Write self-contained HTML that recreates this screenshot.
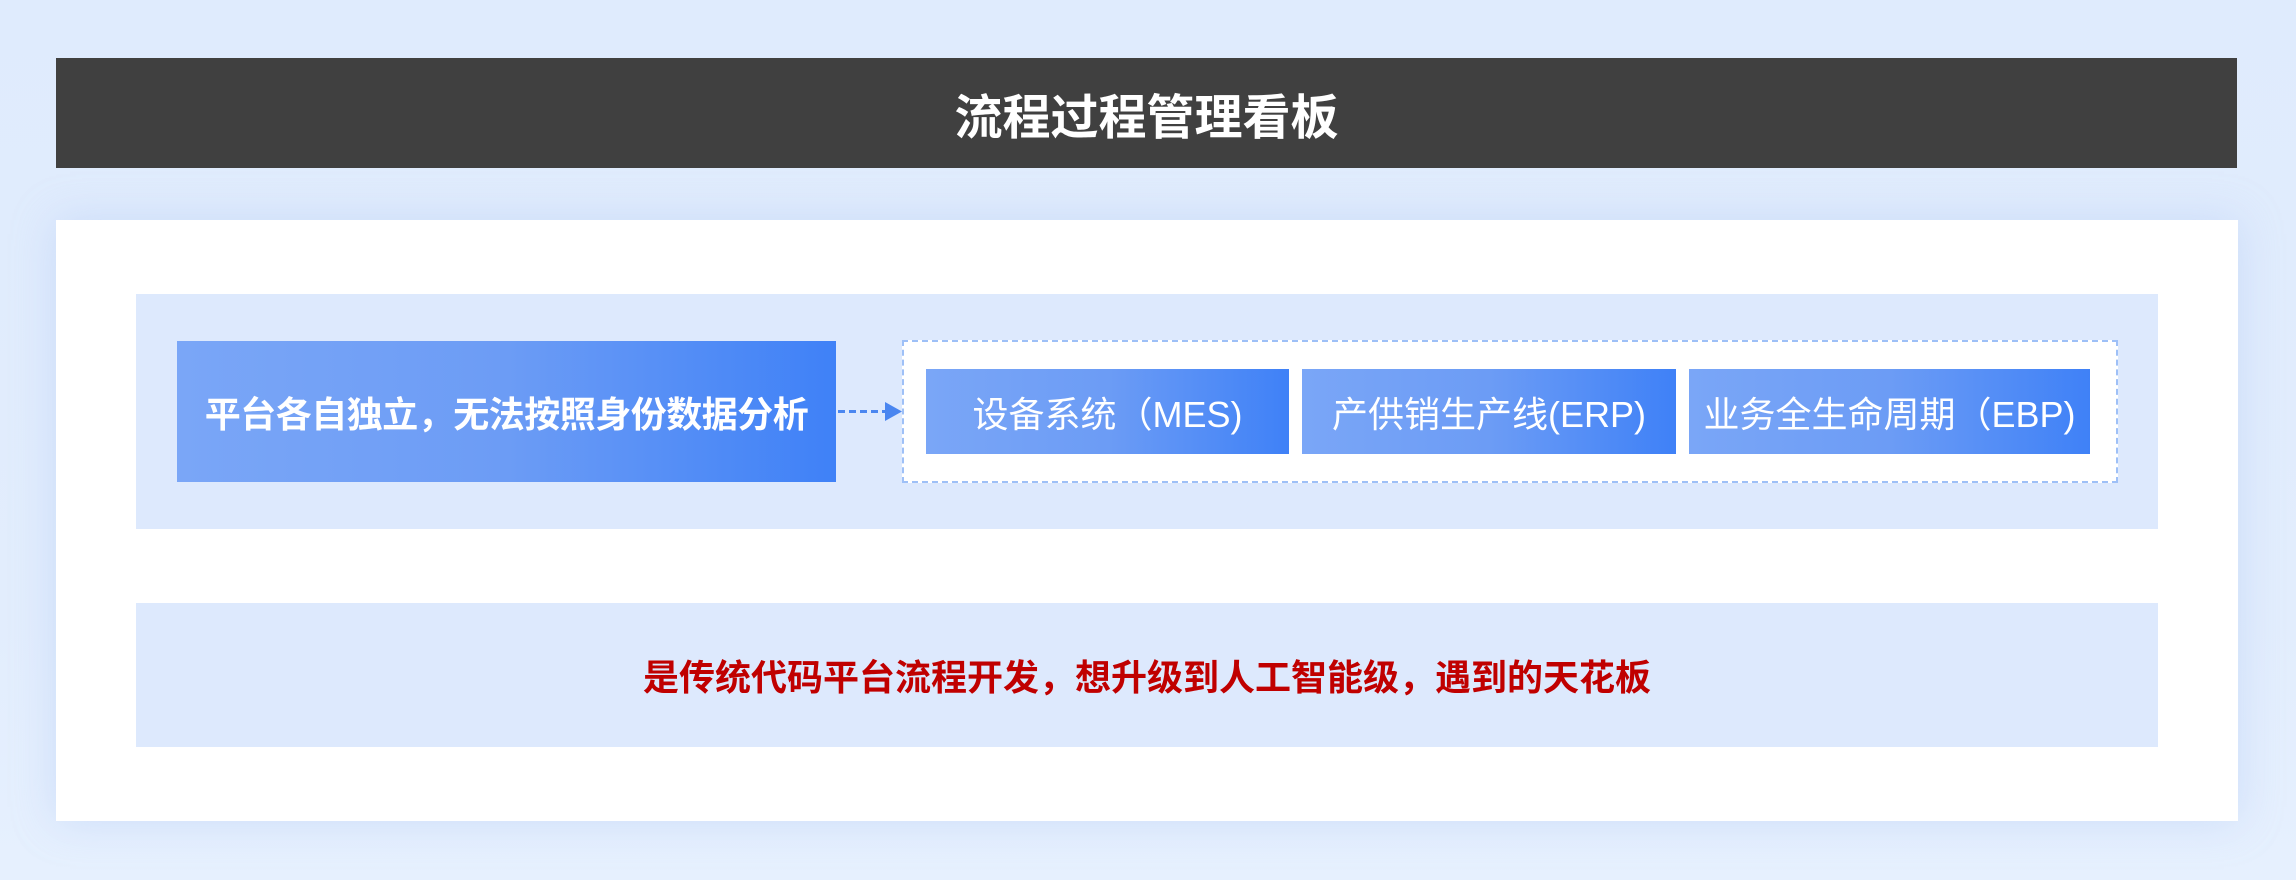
<!DOCTYPE html>
<html><head><meta charset="utf-8"><style>
*{margin:0;padding:0;box-sizing:border-box}
body{width:2296px;height:880px;overflow:hidden;background:linear-gradient(180deg,#dfebfd 0%,#e2edfd 70%,#e6f0fe 100%);font-family:"Liberation Sans","Noto Sans CJK SC",sans-serif;position:relative}
.a{position:absolute}
.title{left:56px;top:58px;width:2181px;height:110px;background:#404040;color:#fff;font-weight:bold;font-size:48px;display:flex;align-items:center;justify-content:center}
.panel{left:56px;top:220px;width:2182px;height:601px;background:#fff;box-shadow:0 0 40px rgba(160,190,240,0.35)}
.band{background:#dde9fd}
.g{background:linear-gradient(90deg,#7aa6f7,#6c9cf5 50%,#3f81f7);color:#fff;display:flex;align-items:center;justify-content:center;white-space:nowrap}
</style></head><body>
<div class="a title">流程过程管理看板</div>
<div class="a panel"></div>
<div class="a band" style="left:136px;top:294px;width:2022px;height:235px"></div>
<div class="a g" style="left:177px;top:341px;width:659px;height:141px;font-size:36px;font-weight:bold;letter-spacing:-0.5px">平台各自独立，无法按照身份数据分析</div>
<svg class="a" style="left:836px;top:398px" width="70" height="28"><line x1="2" y1="13.5" x2="50" y2="13.5" stroke="#4a86f0" stroke-width="3" stroke-dasharray="7,4"/><polygon points="49,4 66,13.5 49,23" fill="#4a86f0"/></svg>
<div class="a" style="left:902px;top:340px;width:1216px;height:143px;background:#fff;border:2px dashed #9ec0f7"></div>
<div class="a g" style="left:926px;top:369px;width:363px;height:85px;font-size:36px">设备系统（MES)</div>
<div class="a g" style="left:1302px;top:369px;width:374px;height:85px;font-size:36px">产供销生产线(ERP)</div>
<div class="a g" style="left:1689px;top:369px;width:401px;height:85px;font-size:36px">业务全生命周期（EBP)</div>
<div class="a band" style="left:136px;top:603px;width:2022px;height:144px;display:flex;align-items:center;justify-content:center;color:#c00000;font-weight:bold;font-size:36px">是传统代码平台流程开发，想升级到人工智能级，遇到的天花板</div>
</body></html>
